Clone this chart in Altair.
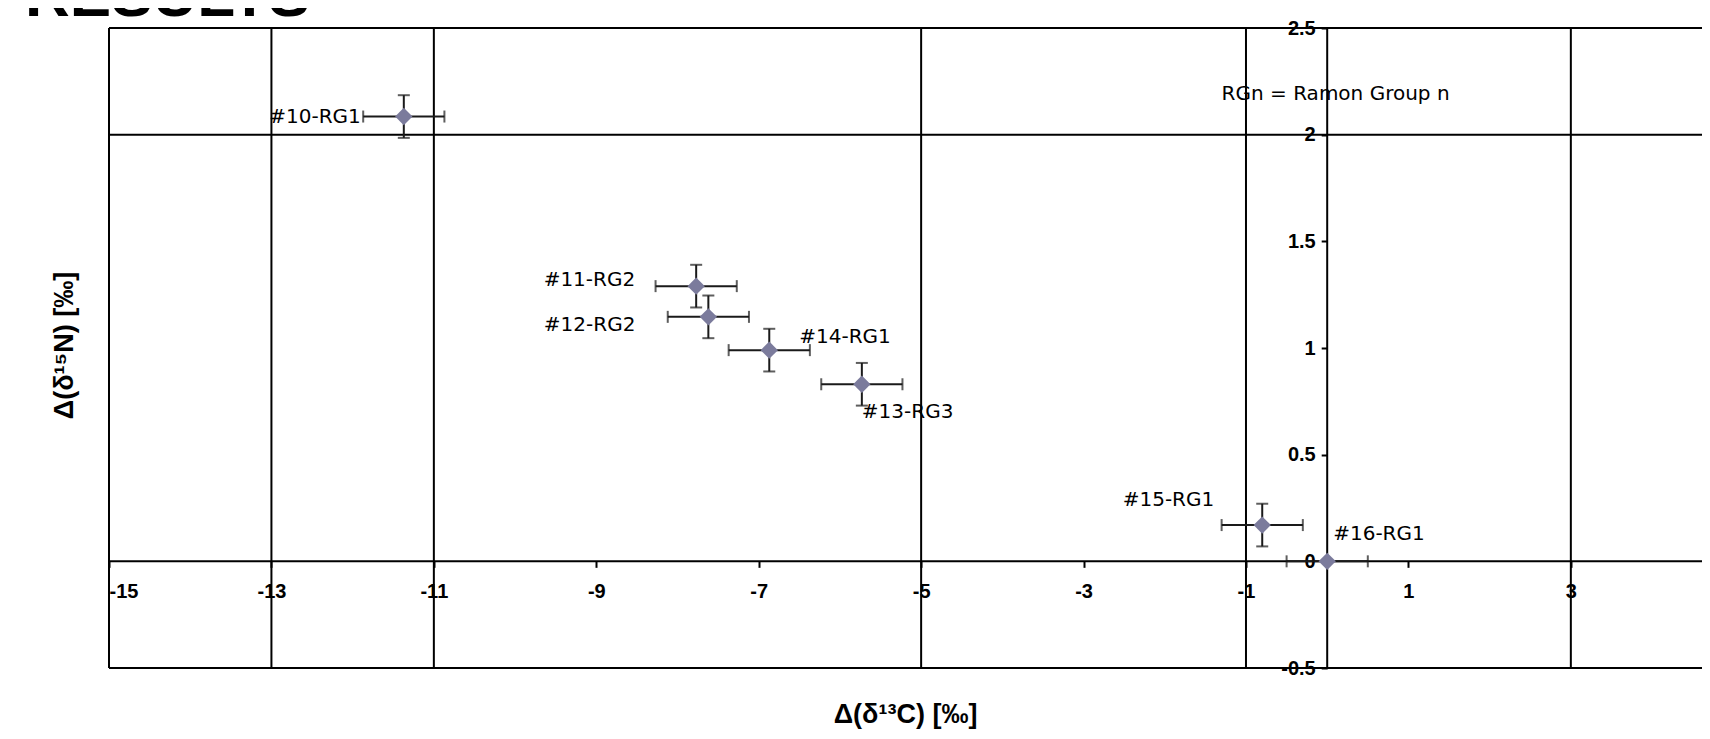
import altair as alt
import pandas as pd

# ---- data ----
samples = ["#10-RG1", "#11-RG2", "#12-RG2", "#14-RG1", "#13-RG3", "#15-RG1", "#16-RG1"]
d13c = [-11.37, -7.77, -7.62, -6.87, -5.73, -0.80, 0.0]
d15n = [2.085, 1.29, 1.146, 0.99, 0.83, 0.17, 0.0]
err_c = [0.5, 0.5, 0.5, 0.5, 0.5, 0.5, 0.5]
err_n = [0.1, 0.1, 0.1, 0.1, 0.1, 0.1, 0.0]

x_ticks = [-15, -13, -11, -9, -7, -5, -3, -1, 1, 3]
y_ticks = [-0.5, 0, 0.5, 1, 1.5, 2, 2.5]
grid_x = [-15, -13, -11, -5, -1, 0, 3]
grid_y = [-0.5, 0, 2, 2.5]

note_text = ["RGn = Ramon Group n"]
note_x = [-1.30]
note_y = [2.19]

heading = ["RESULTS"]

# ---- layout (styles) ----
XMIN, XMAX = -15, 4.615
YMIN, YMAX = -0.5, 2.5
W, H = 1593, 640
FONT = "Liberation Sans"
LFONT = "DejaVu Sans"
PT_COLOR = "#7b7b9c"
EB_COLOR = "#1a1a1a"

df = pd.DataFrame({"sample": samples, "x": d13c, "y": d15n, "ex": err_c, "ey": err_n})
df["xlo"] = df["x"] - df["ex"]
df["xhi"] = df["x"] + df["ex"]
df["ylo"] = df["y"] - df["ey"]
df["yhi"] = df["y"] + df["ey"]

xs = alt.Scale(domain=[XMIN, XMAX], nice=False, zero=False)
ys = alt.Scale(domain=[YMIN, YMAX], nice=False, zero=False)

x_off = -(0 - XMIN) / (XMAX - XMIN) * W      # y-axis sits at x = 0
y_off = -(0 - YMIN) / (YMAX - YMIN) * H      # x-axis sits at y = 0

x_axis = alt.Axis(
    values=x_ticks, labelExpr="'' + datum.value", offset=y_off,
    title="Δ(δ¹³C) [‰]", titleX=796, titleY=140, titleAlign="center",
    titleBaseline="top",
)
y_axis = alt.Axis(
    values=y_ticks, labelExpr="'' + datum.value", offset=x_off,
    title="Δ(δ¹⁵N) [‰]", titleX=-1263, titleY=317, titleAlign="center",
    titleBaseline="middle", titleAngle=270,
)


def X(field):
    return alt.X(field, type="quantitative", scale=xs, axis=x_axis)


def Y(field):
    return alt.Y(field, type="quantitative", scale=ys, axis=y_axis)


base = alt.Chart(df)

vgrid = alt.Chart(pd.DataFrame({"gx": grid_x})).mark_rule(color="black", strokeWidth=2).encode(
    x=X("gx")
)
hgrid = alt.Chart(pd.DataFrame({"gy": grid_y})).mark_rule(color="black", strokeWidth=2).encode(
    y=Y("gy")
)

hbar = base.mark_rule(color=EB_COLOR, strokeWidth=2).encode(
    x=X("xlo"), x2="xhi:Q", y=Y("y")
)
vbar = base.transform_filter("datum.ey > 0").mark_rule(color=EB_COLOR, strokeWidth=2).encode(
    x=X("x"), y=Y("ylo"), y2="yhi:Q"
)
cap_lo_x = base.mark_tick(color=EB_COLOR, orient="vertical", size=12, thickness=2).encode(
    x=X("xlo"), y=Y("y")
)
cap_hi_x = base.mark_tick(color=EB_COLOR, orient="vertical", size=12, thickness=2).encode(
    x=X("xhi"), y=Y("y")
)
cap_lo_y = base.transform_filter("datum.ey > 0").mark_tick(
    color=EB_COLOR, orient="horizontal", size=12, thickness=2).encode(
    x=X("x"), y=Y("ylo")
)
cap_hi_y = base.transform_filter("datum.ey > 0").mark_tick(
    color=EB_COLOR, orient="horizontal", size=12, thickness=2).encode(
    x=X("x"), y=Y("yhi")
)

points = base.mark_point(shape="diamond", filled=True, size=300, color=PT_COLOR, opacity=1).encode(
    x=X("x"), y=Y("y")
)

# label placement (style): sample -> (align, dx, dy)
label_style = {
    "#10-RG1": ("right", -43, 0),
    "#11-RG2": ("right", -61, -6),
    "#12-RG2": ("right", -73, 8),
    "#14-RG1": ("left", 30, -13),
    "#13-RG3": ("left", 0, 28),
    "#15-RG1": ("right", -48, -25),
    "#16-RG1": ("left", 6, -27),
}
label_layers = []
for s in samples:
    al, dx, dy = label_style[s]
    label_layers.append(
        base.transform_filter(alt.datum.sample == s).mark_text(
            align=al, baseline="middle", dx=dx, dy=dy, font=LFONT, fontSize=20, color="black"
        ).encode(x=X("x"), y=Y("y"), text="sample:N")
    )

note = alt.Chart(pd.DataFrame({"t": note_text, "nx": note_x, "ny": note_y})).mark_text(
    align="left", baseline="middle", font=LFONT, fontSize=20, color="black"
).encode(x=X("nx"), y=Y("ny"), text="t:N")

# heading, cut by the top edge like in the reference
head = alt.Chart(pd.DataFrame({"h": heading})).mark_text(
    align="left", baseline="alphabetic", font=FONT, fontSize=62, fontWeight="bold",
    color="black", clip=False,
).encode(x=alt.value(-84), y=alt.value(-12), text="h:N")

chart = alt.layer(
    vgrid, hgrid, hbar, vbar, cap_lo_x, cap_hi_x, cap_lo_y, cap_hi_y, points,
    *label_layers, note, head
).properties(
    width=W, height=H,
    autosize=alt.AutoSizeParams(type="none"),
    padding={"left": 101, "top": 20, "right": 0, "bottom": 72},
).configure_view(
    stroke=None
).configure_axis(
    domain=False, grid=False,
    labelFont=FONT, labelFontSize=20, labelFontWeight="bold", labelColor="black",
    tickColor="black", tickWidth=2, tickSize=6, labelPadding=6,
    titleFont=FONT, titleFontSize=27, titleFontWeight="bold", titleColor="black",
).configure_axisBottom(
    labelPadding=14
)

chart.save("out.html", embed_options={"renderer": "svg", "actions": False})
